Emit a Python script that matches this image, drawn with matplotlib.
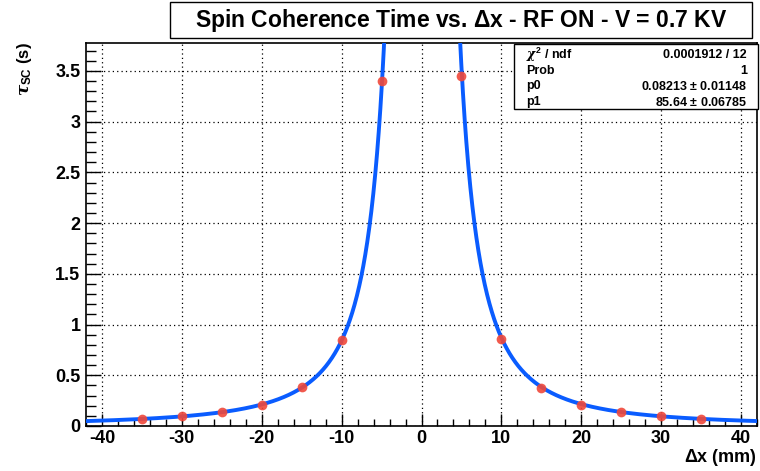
import numpy as np
import matplotlib
matplotlib.use("Agg")
import matplotlib.pyplot as plt
from matplotlib.patches import Rectangle
from matplotlib.ticker import MultipleLocator

plt.rcParams['font.family'] = ['Liberation Sans', 'DejaVu Sans']
plt.rcParams['font.weight'] = 'bold'
plt.rcParams['mathtext.fontset'] = 'custom'
plt.rcParams['mathtext.rm'] = 'Liberation Sans:bold'
plt.rcParams['mathtext.bf'] = 'Liberation Sans:bold'
plt.rcParams['mathtext.it'] = 'DejaVu Serif:italic'

# data points
dx = [-35, -30, -25, -20, -15, -10, -5, 5, 10, 15, 20, 25, 30, 35]
tau = [0.07, 0.10, 0.14, 0.21, 0.38, 0.845, 3.40, 3.45, 0.855, 0.378, 0.21, 0.14, 0.10, 0.07]

# fit results (p1 / (x - p0)^2)
p0 = 0.08213
p1 = 85.64
stats_names = [r'$\chi^2$ / ndf', 'Prob', 'p0', 'p1']
stats_vals = ['0.0001912 / 12', '1', r'0.08213 $\pm$ 0.01148', r'85.64 $\pm$ 0.06785']

fig = plt.figure(figsize=(7.6, 4.71), dpi=100)
ax = fig.add_axes([86/760, 1-426/471, (757-86)/760, (426-43)/471])

xf = np.linspace(-42, 42, 2000)
yf = p1 / (xf - p0)**2
ax.plot(xf, yf, color='#0a5cff', lw=2.8, zorder=3)
ax.plot(dx, tau, 'o', color='#f0483a', ms=7, mec='none', alpha=0.9, zorder=4)

ax.set_xlim(-42, 42)
ax.set_ylim(0, 3.775)
ax.xaxis.set_major_locator(MultipleLocator(10))
ax.xaxis.set_minor_locator(MultipleLocator(2))
ax.yaxis.set_major_locator(MultipleLocator(0.5))
ax.yaxis.set_minor_locator(MultipleLocator(0.1))
ax.yaxis.set_major_formatter(matplotlib.ticker.FuncFormatter(lambda v, p: ('%g' % v)))
ax.xaxis.set_major_formatter(matplotlib.ticker.FuncFormatter(lambda v, p: ('%g' % v)))
ax.tick_params(axis='both', which='both', direction='in', labelsize=13, width=1.0)
ax.tick_params(axis='x', which='major', length=9, pad=3)
ax.tick_params(axis='x', which='minor', length=5)
ax.tick_params(axis='y', which='major', length=11, pad=4)
ax.tick_params(axis='y', which='minor', length=7)
ax.grid(True, which='major', color='black', ls=(0, (1, 2.5)), lw=0.9)
for s in ax.spines.values():
    s.set_linewidth(1.2)

# axis titles
fig.text(757/760, 1-457/471, r'$\Delta$x (mm)', ha='right', va='center', fontsize=13, fontweight='bold')
fig.text(25/760, 1-42/471, r'$\tau_{\mathbf{SC}}$ (s)', ha='center', va='top', rotation=90, fontsize=12, fontweight='bold')

# title box
fig.add_artist(Rectangle((170/760, 1-38/471), 582/760, 36/471, transform=fig.transFigure,
                         facecolor='white', edgecolor='black', lw=1.0))
fig.text(461/760, 1-20/471, r'Spin Coherence Time vs. $\Delta$x - RF ON - V = 0.7 KV',
         ha='center', va='center', fontsize=16.5, fontweight='bold')

# stats box
fig.add_artist(Rectangle((514/760, 1-109/471), 244/760, 65/471, transform=fig.transFigure,
                         facecolor='white', edgecolor='black', lw=1.0, zorder=5))
for i, (n, v) in enumerate(zip(stats_names, stats_vals)):
    yy = 1 - (55 + 15.7*i)/471
    fig.text(526/760, yy, n, ha='left', va='center', fontsize=9, fontweight='bold', zorder=6)
    fig.text(747/760, yy, v, ha='right', va='center', fontsize=9, fontweight='bold', zorder=6)

fig.savefig('out.png', dpi=100)
